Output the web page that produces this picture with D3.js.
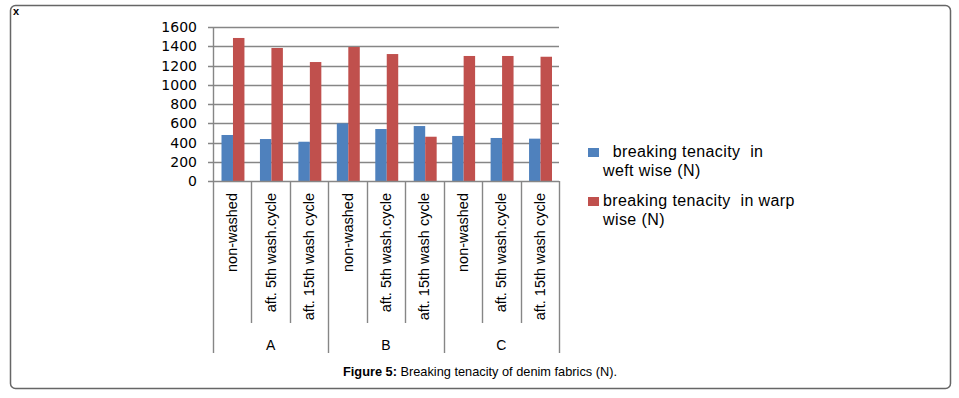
<!DOCTYPE html>
<html lang="en">
<head>
    <meta charset="UTF-8">
    <title>Breaking tenacity of denim fabrics</title>
    <style>
        body { margin: 0; background: #fff; }
        svg { display: block; }
        .grid line { stroke: #868686; stroke-width: 1.4px; }
        .axis path, .axis line { stroke: #868686; stroke-width: 1.4px; }
        .ylab { font-family: "DejaVu Sans", sans-serif; font-size: 14px; fill: #000; }
        .cat { font-family: "Liberation Sans", Arial, sans-serif; font-size: 14.5px; fill: #000; }
        .grp { font-family: "Liberation Sans", Arial, sans-serif; font-size: 14px; fill: #000; }
        .leg { font-family: "Liberation Sans", Arial, sans-serif; font-size: 16px; letter-spacing: 0.4px; fill: #000; white-space: pre; }
        .cap { font-family: "Liberation Sans", Arial, sans-serif; font-size: 13px; fill: #000; }
    </style>
</head>
<body>
<script src="https://d3js.org/d3.v7.min.js"></script>
<script>

    // data
    var categories = ["non-washed", "aft. 5th wash.cycle", "aft. 15th wash cycle",
                      "non-washed", "aft. 5th wash.cycle", "aft. 15th wash cycle",
                      "non-washed", "aft. 5th wash.cycle", "aft. 15th wash cycle"];
    var groups = ["A", "B", "C"];
    var weft = [478, 436, 408, 599, 540, 571, 468, 447, 440];
    var warp = [1486, 1382, 1236, 1392, 1319, 460, 1299, 1299, 1291];
    var yTicks = [0, 200, 400, 600, 800, 1000, 1200, 1400, 1600];
    var seriesNames = ["  breaking tenacity  in|weft wise (N)", "breaking tenacity  in warp|wise (N)"];
    var seriesColors = ["#4F81BD", "#C0504D"];

    var W = 959, H = 398;
    var plotL = 213, plotR = 559, plotT = 27, plotB = 181;

    var svg = d3.select("body").append("svg").attr("width", W).attr("height", H);

    // outer frame
    svg.append("rect")
        .attr("x", 10.5).attr("y", 5.5)
        .attr("width", 940).attr("height", 383)
        .attr("rx", 5).attr("ry", 5)
        .attr("fill", "none").attr("stroke", "#666").attr("stroke-width", 1.5);

    svg.append("text")
        .attr("x", 13).attr("y", 15)
        .style("font-family", "Liberation Sans, Arial, sans-serif")
        .style("font-size", "11px").style("font-weight", "bold")
        .text("x");

    var y = d3.scaleLinear().domain([0, 1600]).range([plotB, plotT]);
    var x0 = d3.scaleBand().domain(d3.range(categories.length)).range([plotL, plotR]);
    var x1 = d3.scaleBand().domain([0, 1]).range([8.5, x0.bandwidth() - 7]);

    // gridlines with small ticks to the left of the axis
    svg.append("g").attr("class", "grid")
        .selectAll("line").data(yTicks.slice(1)).join("line")
        .attr("x1", plotL - 5).attr("x2", plotR)
        .attr("y1", function (d) { return Math.round(y(d)) + 0.5; })
        .attr("y2", function (d) { return Math.round(y(d)) + 0.5; });

    svg.append("g").attr("class", "ylab")
        .selectAll("text").data(yTicks).join("text")
        .attr("x", 197).attr("y", function (d) { return y(d) + 5; })
        .attr("text-anchor", "end")
        .text(function (d) { return d; });

    // bars
    var series = [weft, warp];
    series.forEach(function (vals, s) {
        svg.append("g").selectAll("rect").data(vals).join("rect")
            .attr("x", function (d, i) { return x0(i) + x1(s); })
            .attr("width", x1.bandwidth())
            .attr("y", function (d) { return y(d); })
            .attr("height", function (d) { return y(0) - y(d); })
            .attr("fill", seriesColors[s]);
    });

    // axes lines
    var ax = svg.append("g").attr("class", "axis");
    ax.append("line")
        .attr("x1", plotL + 0.5).attr("x2", plotL + 0.5)
        .attr("y1", plotT).attr("y2", 353);
    ax.append("line")
        .attr("x1", plotL - 5).attr("x2", plotR)
        .attr("y1", plotB + 0.5).attr("y2", plotB + 0.5);

    // category separators: short inside a group, long between groups
    var seps = d3.range(1, categories.length + 1);
    ax.selectAll(".sep").data(seps).join("line")
        .attr("class", "sep")
        .attr("x1", function (d) { return Math.round(plotL + d * x0.step()) + 0.5; })
        .attr("x2", function (d) { return Math.round(plotL + d * x0.step()) + 0.5; })
        .attr("y1", plotB)
        .attr("y2", function (d) { return d % 3 === 0 ? 353 : 323; });

    // rotated category labels
    svg.append("g").attr("class", "cat")
        .selectAll("text").data(categories).join("text")
        .attr("transform", function (d, i) {
            return "translate(" + (x0(i) + x0.bandwidth() / 2 + 5) + ",193) rotate(-90)";
        })
        .attr("text-anchor", "end")
        .text(function (d) { return d; });

    // group labels
    svg.append("g").attr("class", "grp")
        .selectAll("text").data(groups).join("text")
        .attr("x", function (d, g) { return plotL + (g * 3 + 1.5) * x0.step(); })
        .attr("y", 350)
        .attr("text-anchor", "middle")
        .text(function (d) { return d; });

    // legend
    var leg = svg.append("g");
    seriesNames.forEach(function (name, s) {
        var gy = 148 + s * 49;
        leg.append("rect")
            .attr("x", 588).attr("y", gy)
            .attr("width", 11).attr("height", 9)
            .attr("fill", seriesColors[s]);
        name.split("|").forEach(function (line, k) {
            leg.append("text").attr("class", "leg")
                .attr("x", 603).attr("y", gy + 9 + k * 19)
                .text(line);
        });
    });

    // caption
    var cap = svg.append("text").attr("class", "cap")
        .attr("x", 343).attr("y", 376);
    cap.append("tspan").style("font-weight", "bold").text("Figure 5:");
    cap.append("tspan").text(" Breaking tenacity of denim fabrics (N).");
    cap.attr("textLength", 274).attr("lengthAdjust", "spacingAndGlyphs");

</script>
</body>
</html>
